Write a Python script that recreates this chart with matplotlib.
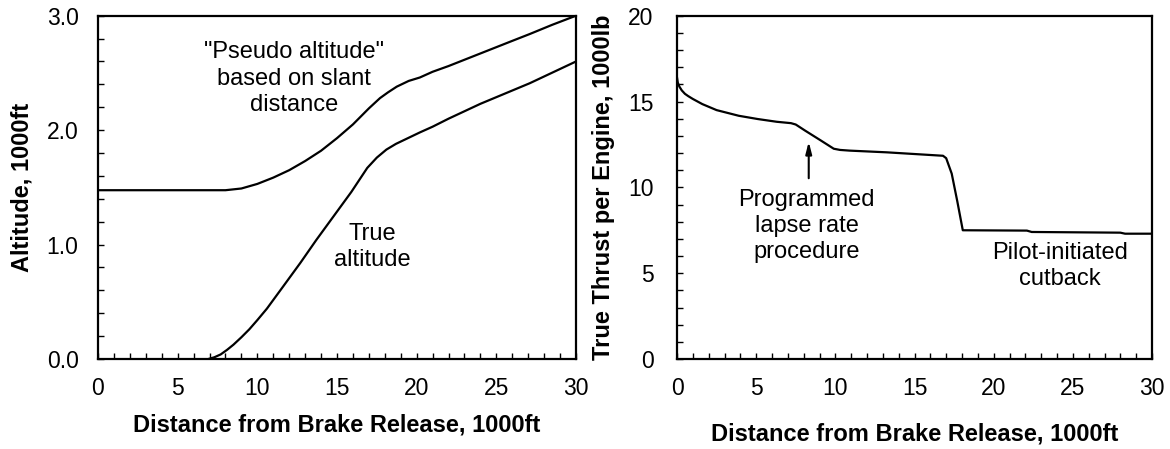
import matplotlib
matplotlib.use("Agg")
import matplotlib.pyplot as plt
from matplotlib.ticker import MultipleLocator, FormatStrFormatter

plt.rcParams['font.family'] = ['Liberation Sans', 'DejaVu Sans']

# ---- data (1000 ft / 1000 lb) ----
pseudo_x = [0, 8.0, 9.0, 10.0, 11.0, 12.0, 13.0, 14.0, 15.0, 16.0, 17.0, 17.7, 18.2, 18.75,
            19.5, 20.2, 21.0, 22.0, 24.0, 26.0, 27.1, 28.5, 30]
pseudo_alt = [1.475, 1.475, 1.49, 1.53, 1.585, 1.65, 1.73, 1.82, 1.93, 2.05, 2.19, 2.28, 2.33, 2.38,
              2.43, 2.46, 2.51, 2.56, 2.67, 2.78, 2.84, 2.92, 3.0]

true_x = [6.93, 7.3, 7.7, 8.1, 8.5, 9.0, 9.5, 10.0, 10.6, 11.6, 12.7, 13.7, 14.8, 15.9, 16.9,
          17.5, 18.1, 18.7, 19.3, 20.2, 21.0, 22.0, 24.0, 27.1, 30]
true_alt = [0.0, 0.015, 0.04, 0.08, 0.125, 0.19, 0.26, 0.34, 0.44, 0.63, 0.84, 1.04, 1.25, 1.46,
            1.67, 1.76, 1.83, 1.88, 1.92, 1.98, 2.03, 2.10, 2.23, 2.41, 2.60]

thrust_x = [0, 0.05, 0.15, 0.3, 0.5, 0.7, 1.0, 1.6, 2.5, 3.9, 5.1, 6.3, 7.2, 7.5, 8.1, 9.05,
            9.9, 10.3, 10.9, 13.25, 16.8, 17.0, 17.35, 17.7, 18.05, 22.1, 22.4, 28.0, 28.3, 30]
thrust = [16.4, 16.1, 15.87, 15.65, 15.45, 15.32, 15.15, 14.85, 14.5, 14.17, 13.98, 13.82, 13.74,
          13.66, 13.3, 12.75, 12.25, 12.18, 12.14, 12.04, 11.84, 11.7, 10.8, 9.2, 7.5, 7.48,
          7.4, 7.36, 7.3, 7.3]

x_ticks = [0, 5, 10, 15, 20, 25, 30]
alt_ticks = [0.0, 1.0, 2.0, 3.0]
thrust_ticks = [0, 5, 10, 15, 20]

xlabel = "Distance from Brake Release, 1000ft"

W, H = 1170, 449
fig = plt.figure(figsize=(W / 100, H / 100), dpi=100)

bottom = (449 - 359) / H
height = (359 - 15.7) / H
ax1 = fig.add_axes([98 / W, bottom, 478 / W, height])
ax2 = fig.add_axes([677 / W, bottom, 475 / W, height])

for ax in (ax1, ax2):
    for s in ax.spines.values():
        s.set_linewidth(1.6)
    ax.tick_params(which='both', direction='in', top=False, right=False,
                   length=4.5, width=1.0, labelsize=16.5)
    ax.tick_params(axis='x', which='major', pad=13)
    ax.set_xlim(0, 30)
    ax.set_xticks(x_ticks)
    ax.xaxis.set_minor_locator(MultipleLocator(1))

# Left chart
ax1.plot(pseudo_x, pseudo_alt, color='black', lw=1.6, solid_joinstyle='round')
ax1.plot(true_x, true_alt, color='black', lw=1.6, solid_joinstyle='round')
ax1.set_ylim(0, 3.0)
ax1.set_yticks(alt_ticks)
ax1.yaxis.set_major_formatter(FormatStrFormatter('%.1f'))
ax1.yaxis.set_minor_locator(MultipleLocator(0.2))
ax1.tick_params(axis='y', which='major', pad=14)
ax1.set_ylabel("Altitude, 1000ft", fontsize=17, fontweight='bold', va='center')
ax1.yaxis.set_label_coords(-0.159, 0.5)
ax1.set_xlabel(xlabel, fontsize=17, fontweight='bold')
ax1.xaxis.set_label_coords(0.5, -0.160)
ax1.text(12.3, 2.45, '"Pseudo altitude"\nbased on slant\ndistance', fontsize=17,
         ha='center', va='center', multialignment='center', linespacing=1.25)
ax1.text(17.23, 0.98, 'True\naltitude', fontsize=17,
         ha='center', va='center', multialignment='center', linespacing=1.25)

# Right chart
ax2.plot(thrust_x, thrust, color='black', lw=1.6, solid_joinstyle='round')
ax2.set_ylim(0, 20)
ax2.set_yticks(thrust_ticks)
ax2.yaxis.set_minor_locator(MultipleLocator(1))
ax2.tick_params(axis='y', which='major', pad=17)
ax2.set_ylabel("True Thrust per Engine, 1000lb", fontsize=17, fontweight='bold', va='center')
ax2.yaxis.set_label_coords(-0.154, 0.5)
ax2.set_xlabel(xlabel, fontsize=17, fontweight='bold')
ax2.xaxis.set_label_coords(0.5, -0.185)
ax2.annotate('', xy=(8.32, 12.66), xytext=(8.32, 10.53),
             arrowprops=dict(arrowstyle='-|>,head_length=0.7,head_width=0.18',
                             color='black', lw=1.5, shrinkA=0, shrinkB=0))
ax2.text(8.2, 7.75, 'Programmed\nlapse rate\nprocedure', fontsize=17,
         ha='center', va='center', multialignment='center', linespacing=1.25)
ax2.text(24.2, 5.42, 'Pilot-initiated\ncutback', fontsize=17,
         ha='center', va='center', multialignment='center', linespacing=1.25)

fig.savefig('out.png', dpi=100)
